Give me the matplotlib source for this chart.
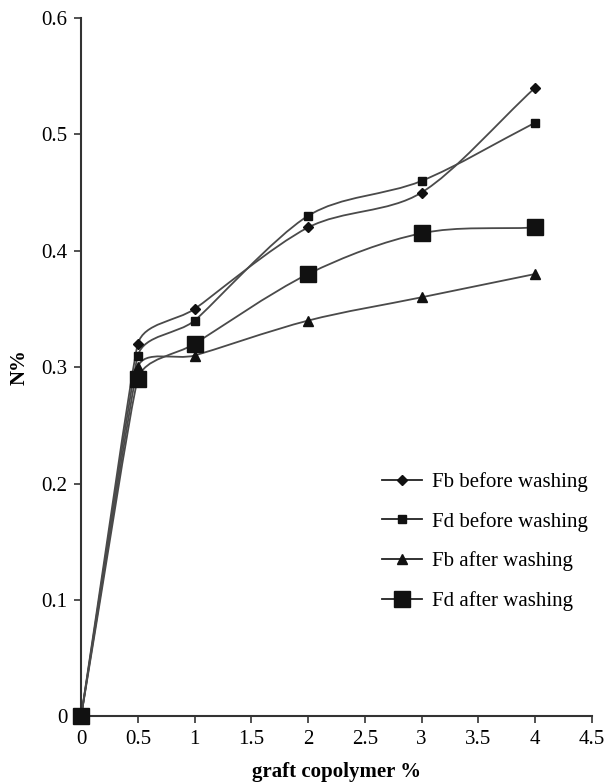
import numpy as np
import matplotlib
matplotlib.use("Agg")
import matplotlib.pyplot as plt
from matplotlib.path import Path
from matplotlib.patches import PathPatch
from matplotlib.lines import Line2D

plt.rcParams['font.family'] = ['Liberation Serif', 'DejaVu Serif']

# data
graft = [0, 0.5, 1, 2, 3, 4]
fb_before = [0, 0.32, 0.35, 0.42, 0.45, 0.54]
fd_before = [0, 0.31, 0.34, 0.43, 0.46, 0.51]
fb_after = [0, 0.30, 0.31, 0.34, 0.36, 0.38]
fd_after = [0, 0.29, 0.32, 0.38, 0.415, 0.42]
labels = ["Fb before washing", "Fd before washing", "Fb after washing", "Fd after washing"]

x_ticks = [0, 0.5, 1, 1.5, 2, 2.5, 3, 3.5, 4, 4.5]
x_tick_labels = ["0", "0.5", "1", "1.5", "2", "2.5", "3", "3.5", "4", "4.5"]
y_ticks = [0, 0.1, 0.2, 0.3, 0.4, 0.5, 0.6]
y_tick_labels = ["0", "0.1", "0.2", "0.3", "0.4", "0.5", "0.6"]

line_col = '#4a4a4a'
font = 15


def smooth_path(ax, xs, ys):
    # bezier curve through the points, worked out in screen space
    p = ax.transData.transform(np.column_stack([xs, ys]).astype(float))
    n = len(p)
    seg = [np.hypot(*(p[i + 1] - p[i])) for i in range(n - 1)]
    tang, reach = [], []
    for i in range(n):
        d = p[min(i + 1, n - 1)] - p[max(i - 1, 0)]
        tang.append(d / np.hypot(*d))
        near = [seg[j] for j in (i - 1, i) if 0 <= j < n - 1]
        reach.append(min(near) / 3.0)
    pts = [p[0]]
    codes = [Path.MOVETO]
    for i in range(n - 1):
        pts += [p[i] + tang[i] * reach[i], p[i + 1] - tang[i + 1] * reach[i + 1], p[i + 1]]
        codes += [Path.CURVE4] * 3
    pts = ax.transData.inverted().transform(np.array(pts))
    return Path(pts, codes)


fig = plt.figure(figsize=(6.1, 7.82), dpi=100)
ax = fig.add_axes([0.133, 0.084, 0.837, 0.893])
ax.set_xlim(0, 4.5)
ax.set_ylim(0, 0.6)

series = [fb_before, fd_before, fb_after, fd_after]
markers = ['D', 's', '^', 's']
sizes = [5, 5.5, 6.5, 11]

handles = []
for ys, mk, ms, lab in zip(series, markers, sizes, labels):
    ax.add_patch(PathPatch(smooth_path(ax, graft, ys), facecolor='none',
                           edgecolor=line_col, lw=1.3, zorder=2))
    ax.plot(graft, ys, linestyle='none', marker=mk, markersize=ms,
            color='#111111', zorder=3, clip_on=False)
    handles.append(Line2D([], [], color='#222222', lw=1.3, marker=mk,
                          markersize=ms, markerfacecolor='#111111',
                          markeredgecolor='#111111', label=lab))

ax.set_xticks(x_ticks)
ax.set_xticklabels(x_tick_labels)
ax.set_yticks(y_ticks)
ax.set_yticklabels(y_tick_labels)
ax.tick_params(labelsize=font, direction='out', length=5, width=1.2,
               color='#333333', pad=5)
for s in ['top', 'right']:
    ax.spines[s].set_visible(False)
for s in ['left', 'bottom']:
    ax.spines[s].set_linewidth(1.5)
    ax.spines[s].set_color('#333333')

ax.set_xlabel("graft copolymer %", fontsize=font, fontweight='bold', labelpad=9)
ax.set_ylabel("N%", fontsize=font, fontweight='bold', labelpad=8)

ax.legend(handles=handles, loc='upper left', bbox_to_anchor=(0.59, 0.35),
          frameon=False, fontsize=font, borderpad=0, borderaxespad=0,
          handlelength=1.9, handletextpad=0.5, labelspacing=0.95)

plt.savefig("out.png", dpi=100)
